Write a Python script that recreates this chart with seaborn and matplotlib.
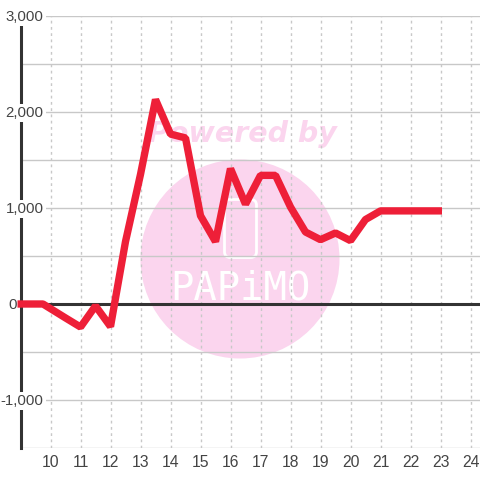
import matplotlib
matplotlib.use("Agg")
import matplotlib.pyplot as plt
from matplotlib.patches import Circle, FancyBboxPatch
import pandas as pd
import seaborn as sns

# hours and values
hours = [8.9, 9.75, 10.5, 11, 11.5, 12, 12.5, 13, 13.5, 14, 14.5, 15, 15.5, 16, 16.5,
         17, 17.5, 18, 18.5, 19, 19.5, 20, 20.5, 21, 21.5, 22, 22.5, 23.05]
values = [0, 0, -145, -240, -20, -235, 650, 1350, 2130, 1770, 1730, 920, 650, 1410, 1040,
          1340, 1340, 1010, 750, 670, 740, 660, 880, 970, 970, 970, 970, 970]
x_ticks = list(range(10, 25))
y_ticks = [-1500, -1000, -500, 0, 500, 1000, 1500, 2000, 2500, 3000]
y_labels = {3000: "3,000", 2000: "2,000", 1000: "1,000", 0: "0", -1000: "-1,000"}

df = pd.DataFrame({"hour": hours, "value": values})

sns.set_style("white")
plt.rcParams["font.family"] = ["Liberation Sans", "DejaVu Sans"]

W = 480
fig = plt.figure(figsize=(4.8, 4.8), dpi=100)
ax = fig.add_axes([20.5 / W, 32 / W, (W - 20.5) / W, 432 / W])

# watermark, placed in pixel coords of the figure
def px(x, y):
    return x / W, 1 - y / W

wm = fig.transFigure
ax.add_patch(Circle(px(240, 259), 99.5 / W, transform=wm, fc="#fbd5ee", ec="none", zorder=0))
ax.add_patch(FancyBboxPatch(px(224.5, 257.5), 32 / W, 58 / W, boxstyle="round,pad=0,rounding_size=0.012",
                            transform=wm, fc="none", ec="white", lw=2, zorder=0.5))
ax.text(*px(242, 134), "Powered by", transform=wm, ha="center", va="center", color="#fbd5ee",
        fontsize=20.5, fontweight="bold", fontstyle="italic", family="DejaVu Sans", zorder=0.5)
ax.text(*px(240, 288), "PAPiMO", transform=wm, ha="center", va="center", color="white",
        fontsize=28, family="DejaVu Sans Mono", zorder=0.5)

ax.set_axisbelow(True)
ax.grid(axis="y", color="#c8c8c8", lw=1, zorder=1)
ax.grid(axis="x", color="#c8c8c8", lw=1, ls=(0, (2, 2.5)), zorder=1)

ax.axhline(0, color="#333333", lw=2.2, zorder=2)
sns.lineplot(data=df, x="hour", y="value", color="#ee1f38", lw=5.3, ax=ax, zorder=5,
             solid_joinstyle="bevel", solid_capstyle="butt", clip_on=False)

ax.set_xlim(9, 9 + (W - 20.5) / 30)
ax.set_ylim(-1500, 3000)
ax.set_xticks(x_ticks)
ax.set_yticks(y_ticks)
ax.set_yticklabels([])
ax.set_xlabel("")
ax.set_ylabel("")
ax.tick_params(axis="both", length=0, labelsize=11.3, labelcolor="#444444")
ax.tick_params(axis="x", pad=5)

for s in ["top", "right", "bottom"]:
    ax.spines[s].set_visible(False)
ax.spines["left"].set_color("#333333")
ax.spines["left"].set_linewidth(2.2)

# y labels sit over the axis line on a white box
for v, lab in y_labels.items():
    off = -4 if v == 0 else 23
    ax.annotate(lab, xy=(0, v), xycoords=ax.get_yaxis_transform(), xytext=(off * 0.72, -0.7),
                textcoords="offset points", ha="right", va="center", fontsize=10.8, color="#444444",
                bbox=dict(fc="white", ec="none", pad=1.5) if v != 0 else None, zorder=3, annotation_clip=False)

fig.savefig("out.png", dpi=100)
